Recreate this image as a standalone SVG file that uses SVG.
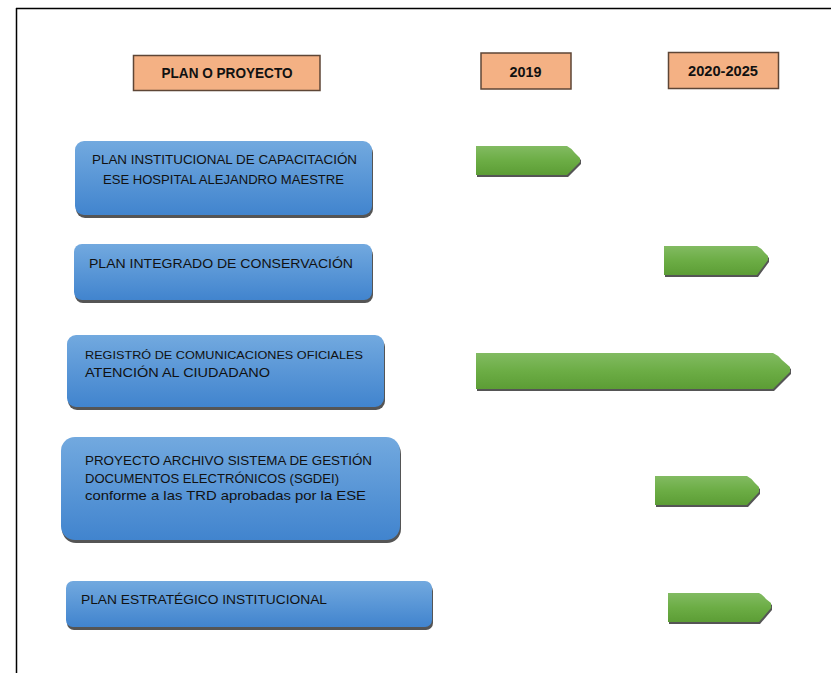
<svg xmlns="http://www.w3.org/2000/svg" width="831" height="673" viewBox="0 0 831 673">
<defs>
<linearGradient id="gBlue" x1="0" y1="0" x2="0" y2="1">
<stop offset="0" stop-color="#72a9df"/>
<stop offset="1" stop-color="#4184ce"/>
</linearGradient>
<linearGradient id="gGreen" x1="0" y1="0" x2="0" y2="1">
<stop offset="0" stop-color="#82bb62"/>
<stop offset="0.5" stop-color="#6cad45"/>
<stop offset="1" stop-color="#5c9d35"/>
</linearGradient>
<style>
.hdr{fill:#f4b184;stroke:#5e4636;stroke-width:1.5}
.ht{font-family:"Liberation Sans",Arial,sans-serif;font-weight:bold;font-size:14px;fill:#111;text-anchor:middle}
.box{fill:url(#gBlue)}
.boxsh{fill:#555}
.bt{font-family:"Liberation Sans",Arial,sans-serif;font-size:13.5px;fill:#111}
.bar{fill:url(#gGreen)}
.barsh{fill:#555}
</style>
</defs>
<rect width="831" height="673" fill="#fff"/>
<g id="frame" stroke="#000" stroke-width="1.5" fill="none">
<line x1="16" y1="8.5" x2="831" y2="8.5"/>
<line x1="16.5" y1="8" x2="16.5" y2="673"/>
</g>

<g id="hdr-plan">
<rect class="hdr" x="133.5" y="55.5" width="186.5" height="35"/>
<text class="ht" x="227" y="78" textLength="131" lengthAdjust="spacingAndGlyphs">PLAN O PROYECTO</text>
</g>
<g id="hdr-2019">
<rect class="hdr" x="481" y="53" width="90" height="36"/>
<text class="ht" x="525.5" y="77" textLength="32" lengthAdjust="spacingAndGlyphs">2019</text>
</g>
<g id="hdr-2020">
<rect class="hdr" x="668.5" y="52.5" width="110" height="36"/>
<text class="ht" x="723" y="76" textLength="70" lengthAdjust="spacingAndGlyphs">2020-2025</text>
</g>

<g id="node-capacitacion">
<rect class="boxsh" x="76" y="144" width="297" height="74" rx="9"/>
<rect class="box" x="75" y="141" width="297" height="74" rx="9"/>
<text class="bt" x="92" y="164" textLength="265" lengthAdjust="spacingAndGlyphs">PLAN INSTITUCIONAL DE CAPACITACIÓN</text>
<text class="bt" x="103" y="184" textLength="241" lengthAdjust="spacingAndGlyphs">ESE HOSPITAL ALEJANDRO MAESTRE</text>
</g>
<g id="node-conservacion">
<rect class="boxsh" x="75" y="247" width="298" height="56" rx="8"/>
<rect class="box" x="74" y="244" width="298" height="56" rx="8"/>
<text class="bt" x="89" y="268" textLength="264" lengthAdjust="spacingAndGlyphs">PLAN INTEGRADO DE CONSERVACIÓN</text>
</g>
<g id="node-registro">
<rect class="boxsh" x="68" y="338" width="317" height="72" rx="9"/>
<rect class="box" x="67" y="335" width="317" height="72" rx="9"/>
<text class="bt" x="85" y="359" style="font-size:10.5px" textLength="278" lengthAdjust="spacingAndGlyphs">REGISTRÓ  DE COMUNICACIONES  OFICIALES</text>
<text class="bt" x="85" y="377" textLength="185" lengthAdjust="spacingAndGlyphs">ATENCIÓN AL CIUDADANO</text>
</g>
<g id="node-sgdei">
<rect class="boxsh" x="62" y="440" width="339" height="103" rx="14"/>
<rect class="box" x="61" y="437" width="339" height="103" rx="14"/>
<text class="bt" x="85" y="465" textLength="287" lengthAdjust="spacingAndGlyphs">PROYECTO ARCHIVO SISTEMA DE GESTIÓN</text>
<text class="bt" x="85" y="483" textLength="254" lengthAdjust="spacingAndGlyphs">DOCUMENTOS ELECTRÓNICOS (SGDEI)</text>
<text class="bt" x="85" y="500" textLength="281" lengthAdjust="spacingAndGlyphs">conforme a las TRD aprobadas por la ESE</text>
</g>
<g id="node-estrategico">
<rect class="boxsh" x="67" y="584" width="366" height="46" rx="7"/>
<rect class="box" x="66" y="581" width="366" height="46" rx="7"/>
<text class="bt" x="81" y="604" textLength="246" lengthAdjust="spacingAndGlyphs">PLAN ESTRATÉGICO INSTITUCIONAL</text>
</g>

<g id="bar-capacitacion">
<path class="barsh" d="M477,148 H568 Q572,150 575,154 L581,160 V164 L568,177 H477 Z"/>
<path class="bar" d="M476,146 H567 Q571,148 574,152 L580,158 V162 L567,175 H476 Z"/>
</g>
<g id="bar-conservacion">
<path class="barsh" d="M665,248 H758 Q762,250 765,254 L769,258 V262 L758,277 H665 Z"/>
<path class="bar" d="M664,246 H757 Q761,248 764,252 L768,256 V260 L757,275 H664 Z"/>
</g>
<g id="bar-registro">
<path class="barsh" d="M477,355 H774 Q779,357 783,362 L791,369 V374 L774,391 H477 Z"/>
<path class="bar" d="M476,353 H773 Q778,355 782,360 L790,367 V372 L773,389 H476 Z"/>
</g>
<g id="bar-sgdei">
<path class="barsh" d="M656,478 H748 Q752,480 755,484 L760,489 V494 L748,507 H656 Z"/>
<path class="bar" d="M655,476 H747 Q751,478 754,482 L759,487 V492 L747,505 H655 Z"/>
</g>
<g id="bar-estrategico">
<path class="barsh" d="M669,595 H760 Q764,597 767,601 L772,605 V610 L760,624 H669 Z"/>
<path class="bar" d="M668,593 H759 Q763,595 766,599 L771,603 V608 L759,622 H668 Z"/>
</g>
</svg>
